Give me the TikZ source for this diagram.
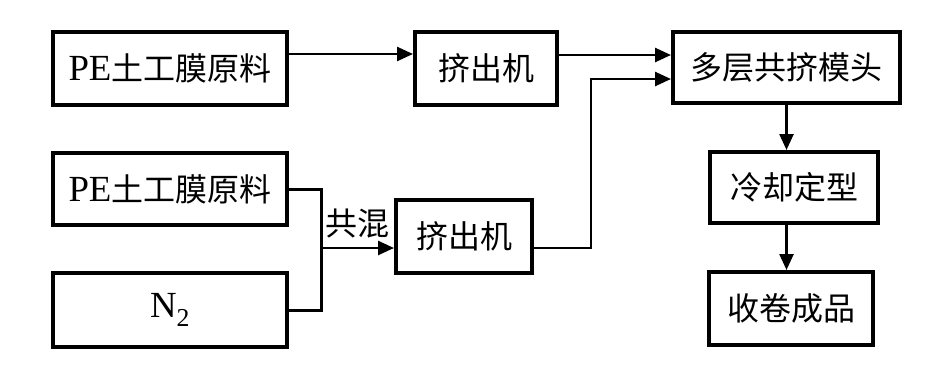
\documentclass[tikz,border=0pt]{standalone}
\usepackage{fontspec}
\setmainfont{Liberation Serif}[Scale=1.15]
\newfontfamily\cjk{Noto Sans CJK SC}
\usetikzlibrary{arrows.meta,positioning,calc}
\tikzset{
  procbox/.style={draw, line width=4pt, inner sep=0pt, align=center, font=\fontsize{32}{38}\selectfont},
  flow/.style={line width=2.5pt, -{Triangle[length=16pt,width=14pt]}},
  feed/.style={line width=3pt},
  lbl/.style={inner sep=0pt, font=\fontsize{32}{38}\selectfont}
}

\begin{document}
\begin{tikzpicture}[x=1pt,y=-1pt]
  \useasboundingbox (0,0) rectangle (941,375);

  %% Raw material boxes
  \node[procbox, minimum width=234pt, minimum height=73pt] (raw1) at (170,68.5) {PE{\cjk 土工膜原料}};
  \node[procbox, minimum width=234pt, minimum height=72pt] (raw2) at (170,189)  {PE{\cjk 土工膜原料}};
  \node[procbox, minimum width=234pt, minimum height=74pt] (n2)   at (170,310)  {N\textsubscript{2}};

  %% Extruders
  \node[procbox, minimum width=142pt, minimum height=73pt] (ext1) at (486,68.5)  {\cjk 挤出机};
  \node[procbox, minimum width=136pt, minimum height=73pt] (ext2) at (464,236.5) {\cjk 挤出机};

  %% Die and downstream steps
  \node[procbox, minimum width=227pt, minimum height=71pt] (die)  at (786.5,67.5) {\cjk 多层共挤模头};
  \node[procbox, minimum width=168pt, minimum height=71pt] (cool) at (794,187.5)  {\cjk 冷却定型};
  \node[procbox, minimum width=164pt, minimum height=73pt] (roll) at (791,308.5)  {\cjk 收卷成品};

  %% Blending of PE and N2
  \coordinate (mix)  at (321,248);
  \coordinate (bend) at (591,79);
  \draw[feed] (raw2.east) -| (mix |- n2.east) -- (n2.east);
  \draw[flow] (mix) -- (mix -| ext2.west);
  \node[lbl] (blend) at (357,224) {\cjk 共混};

  %% Arrows
  \draw[flow] ([yshift=14.5pt]raw1.east) -- ([yshift=14.5pt]ext1.west);
  \draw[flow] ([yshift=13.5pt]ext1.east) -- ([yshift=13.5pt]ext1.east -| die.west);
  \draw[flow] ([yshift=-11.5pt]ext2.east) -| (bend) -- (bend -| die.west);
  \draw[flow] (die.south) -- (die.south |- cool.north);
  \draw[flow] (die.south |- cool.south) -- (die.south |- roll.north);
\end{tikzpicture}
\end{document}
